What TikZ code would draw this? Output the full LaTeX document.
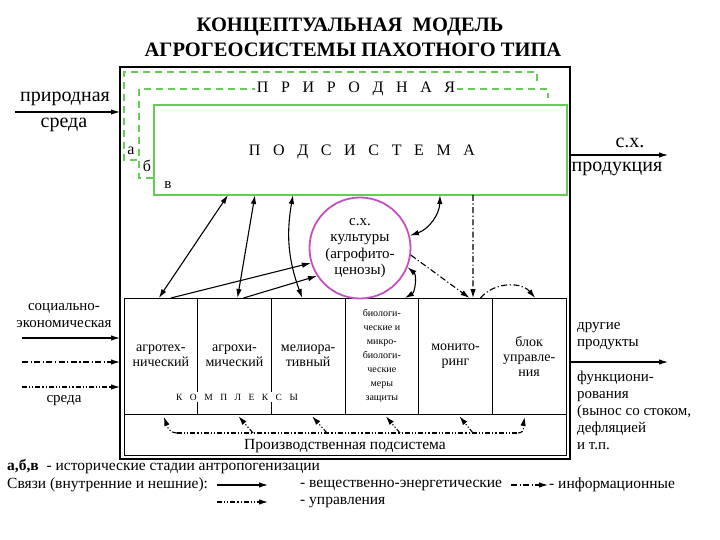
\documentclass[tikz,border=0pt]{standalone}
\usepackage{fontspec}
\setmainfont{Liberation Serif}
\newfontfamily\spacedfont[LetterSpace=54]{Liberation Serif}
\usetikzlibrary{arrows.meta,positioning,calc}
\definecolor{natgreen}{RGB}{102,204,85}
\definecolor{cropmag}{RGB}{196,80,196}

\begin{document}
\begin{tikzpicture}[x=1pt,y=-1pt,>={Latex[length=9pt,width=5.5pt]},
  flow/.style={line width=1.1pt},
  info/.style={line width=1.1pt,dash pattern=on 6pt off 2.5pt on 1.2pt off 2.5pt},
  ctrl/.style={line width=1.1pt,dash pattern=on 5pt off 2pt on 1.2pt off 2pt on 1.2pt off 2pt},
  box/.style={draw,inner sep=0pt,outer sep=0pt,anchor=north west},
  cell/.style={draw,line width=1pt,inner sep=1pt,outer sep=0pt,minimum height=116pt,minimum width=73.67pt,align=center,font=\fontsize{14}{15}\selectfont},
  txt/.style={inner sep=0pt,align=center,font=\fontsize{15}{17}\selectfont},
  legtxt/.style={inner sep=0pt,anchor=west,font=\fontsize{15.5}{17}\selectfont},
  big/.style={inner sep=0pt,font=\fontsize{20}{22}\selectfont},
  gapped/.style={fill=white,inner sep=2pt,font=\spacedfont\fontsize{16}{18}\selectfont}]
  \useasboundingbox (0,0) rectangle (720,540);
  % title
  \node[font=\bfseries\fontsize{20.5}{24}\selectfont] (title1) at (350,27) {КОНЦЕПТУАЛЬНАЯ\ \ МОДЕЛЬ};
  \node[font=\bfseries\fontsize{20.5}{24}\selectfont] (title2) at (353,50) {АГРОГЕОСИСТЕМЫ ПАХОТНОГО ТИПА};

  \node[box,line width=1.2pt,minimum width=450pt,minimum height=392pt] (frame) at (120,67) {};

  % stages a, b
  \draw[natgreen,line width=2pt,dash pattern=on 7pt off 5pt] (137,160) -- (124,160) -- (124,72) -- (537,72) -- (537,83);
  \draw[natgreen,line width=2pt,dash pattern=on 7pt off 5pt] (153,178) -- (139,178) -- (139,89) -- (548,89) -- (548,98);
  \node[box,draw=natgreen,line width=2pt,minimum width=413pt,minimum height=90pt] (natsys) at (154,105) {};
  \node[gapped] (natTop) at (356,89) {П Р И Р О Д Н А Я};
  \node[font=\spacedfont\fontsize{16}{18}\selectfont] (natBot) at (362,152) {П О Д С И С Т Е М А};
  \node[font=\fontsize{16}{16}\selectfont] (stA) at (131,151) {а};
  \node[font=\fontsize{16}{16}\selectfont] (stB) at (147,166) {б};
  \node[font=\fontsize{15}{16}\selectfont] (stC) at (168,185) {в};

  % complexes
  \node[cell,anchor=north west] (agrotech) at (124,298) {агротех-\\нический};
  \node[cell,right=0pt of agrotech] (agrochem) {агрохи-\\мический};
  \node[cell,right=0pt of agrochem] (melior) {мелиора-\\тивный};
  \node[cell,right=0pt of melior,font=\fontsize{10}{14}\selectfont] (bio) {биологи-\\ческие и\\микро-\\биологи-\\ческие\\меры\\защиты};
  \node[cell,right=0pt of bio] (monitor) {монито-\\ринг};
  \node[cell,right=0pt of monitor] (control) {блок\\управле-\\ния};
  \node[fill=white,inner sep=1.5pt,font=\spacedfont\fontsize{9.5}{10}\selectfont] (complexLbl) at (237,397) {К О М П Л Е К С Ы};
  \node[box,line width=1pt,minimum width=442pt,minimum height=41pt] (prod) at (124,414) {};
  \node[font=\fontsize{15.5}{16}\selectfont] (prodLbl) at (345,446) {Производственная подсистема};

  \node[circle,draw=cropmag,line width=1.8pt,minimum size=101pt,inner sep=0pt,align=center,font=\fontsize{15}{16.5}\selectfont] (crops) at (360,248) {с.х.\\культуры\\(агрофито-\\ценозы)};

  % links
  \draw[flow,<->] ([xshift=74pt]natsys.south west) -- ([xshift=-2pt]agrotech.north);
  \draw[flow,<->] ([xshift=101pt]natsys.south west) -- ([xshift=3pt]agrochem.north);
  \draw[flow,<->] ([xshift=139pt]natsys.south west) to[bend right=15] ([xshift=-6pt]melior.north);
  \draw[flow,->] ([xshift=10pt]agrotech.north) -- (crops.197);
  \draw[flow,->] ([xshift=9pt]agrochem.north) -- (crops.213);
  \draw[flow,<->] (crops.14) to[bend right=35] ([xshift=-127pt]natsys.south east);
  \draw[flow,<->] (crops.-22) to[bend left=55] ([xshift=23pt]bio.north);
  \draw[info,->] (crops.-8) -- ([xshift=14pt]monitor.north);
  \draw[info,->] ([xshift=-94pt]natsys.south east) -- ([xshift=17.5pt]monitor.north);
  \draw[info,->] ([xshift=25pt]monitor.north) to[bend left=50] ([xshift=6pt]control.north);

  % production bus
  \coordinate (busL) at (177,433);
  \coordinate (busR) at (518,433);
  \draw[ctrl] (busL) -- (busR);
  \draw[ctrl,->,shorten >=3pt] (busL) to[out=180,in=-70] ([xshift=2pt]agrotech.south);
  \foreach \cellname/\bx in {agrochem/253,melior/327,bio/400,monitor/473}
    \draw[ctrl,->,shorten >=3pt] (\bx,433) -- ([xshift=2pt]\cellname.south);
  \draw[ctrl,->,shorten >=3pt] (busR) to[out=0,in=-100] ([xshift=-4pt]control.south);

  % inputs and outputs
  \node[big] (natEnvA) at (65,99) {природная};
  \node[big] (natEnvB) at (64,125) {среда};
  \coordinate (natIn) at (15,112);
  \draw[flow,->] (natIn) -- (natIn -| frame.west);
  \node[big] (yieldA) at (630,143) {с.х.};
  \node[big] (yieldB) at (617,169) {продукция};
  \coordinate (yieldOut) at (668,155);
  \draw[flow,->] (yieldOut -| frame.east) -- (yieldOut);

  \node[txt] (socLbl) at (64,316) {социально-\\экономическая};
  \coordinate (socA) at (22,338);
  \coordinate (socB) at (22,362);
  \coordinate (socC) at (22,387);
  \draw[flow,->] (socA) -- (socA -| frame.west);
  \draw[info,->] (socB) -- (socB -| frame.west);
  \draw[ctrl,->] (socC) -- (socC -| frame.west);
  \node[txt] (envLbl) at (64,401) {среда};

  \node[txt,align=left,anchor=west] (otherLbl) at (577,336) {другие\\продукты};
  \coordinate (otherOut) at (668,362);
  \draw[flow,->] (otherOut -| frame.east) -- (otherOut);
  \node[txt,align=left,anchor=north west] (funcLbl) at (577,371) {функциони-\\рования\\(вынос со стоком,\\дефляцией\\и т.п.};

  % legend
  \node[legtxt] (legStages) at (7,467) {\textbf{а,б,в}~ - исторические стадии антропогенизации};
  \node[legtxt] (legLinks) at (7,485) {Связи (внутренние и нешние):};
  \coordinate (legFlowA) at (217,485);
  \coordinate (legFlowB) at (268,485);
  \draw[flow,->] (legFlowA) -- (legFlowB);
  \node[legtxt] (legFlow) at (300,485) {- вещественно-энергетические};
  \coordinate (legInfoA) at (511,485);
  \coordinate (legInfoB) at (548,485);
  \draw[info,->] (legInfoA) -- (legInfoB);
  \node[legtxt] (legInfo) at (549,485) {- информационные};
  \coordinate (legCtrlA) at (217,502);
  \coordinate (legCtrlB) at (268,502);
  \draw[ctrl,->] (legCtrlA) -- (legCtrlB);
  \node[legtxt] (legCtrl) at (300,503) {- управления};
\end{tikzpicture}
\end{document}
